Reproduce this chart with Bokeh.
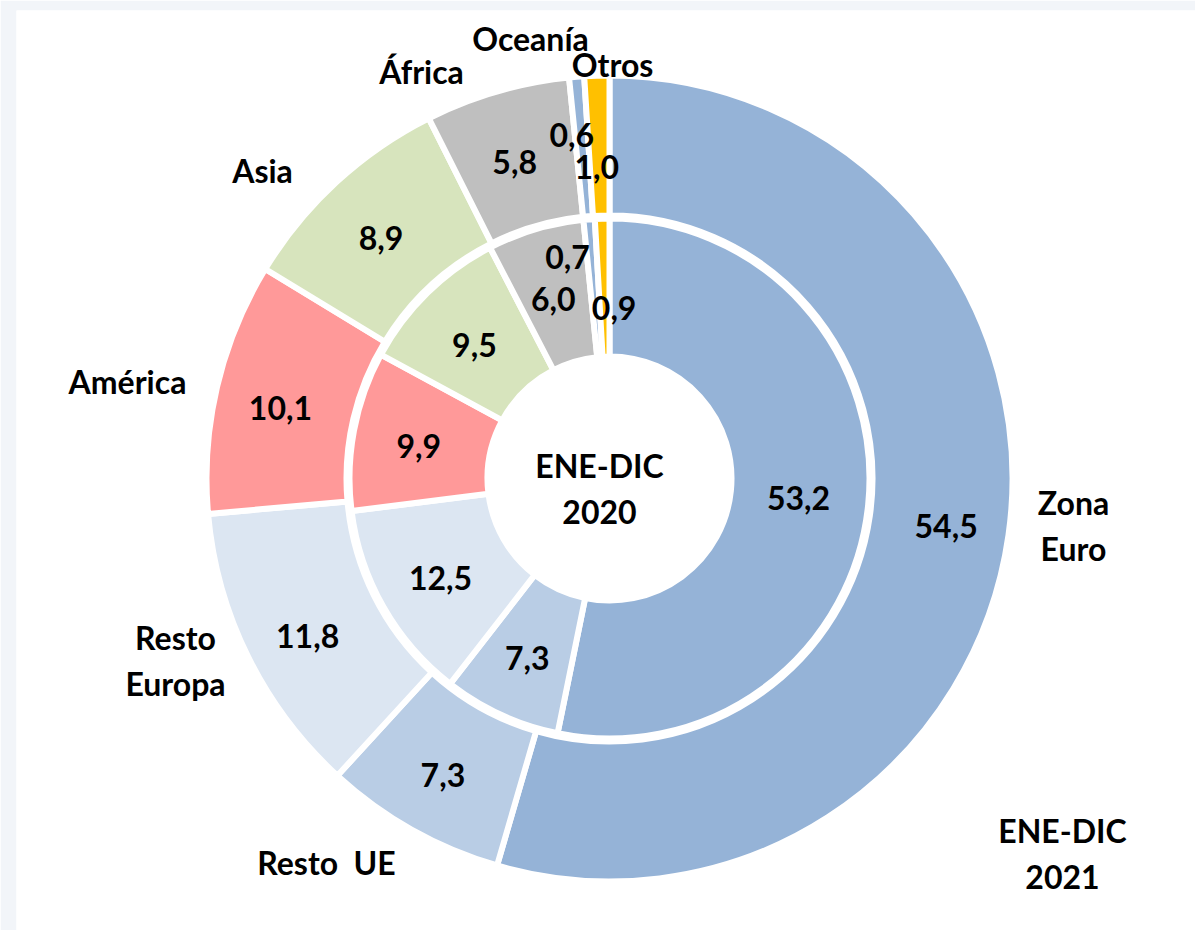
import math
from bokeh.plotting import figure
from bokeh.models import Range1d, ColumnDataSource
from bokeh.core.properties import value
from bokeh.embed import file_html
from bokeh.resources import INLINE

# ---------------- data ----------------
categories = ["Zona Euro", "Resto UE", "Resto Europa", "América", "Asia", "África", "Oceanía", "Otros"]
category_labels = ["Zona\nEuro", "Resto \u00a0UE", "Resto\nEuropa", "América", "Asia", "África", "Oceanía", "Otros"]
values_2021 = [54.5, 7.3, 11.8, 10.1, 8.9, 5.8, 0.6, 1.0]   # outer ring
values_2020 = [53.2, 7.3, 12.5, 9.9, 9.5, 6.0, 0.7, 0.9]    # inner ring
ring_titles = ["ENE-DIC\n2021", "ENE-DIC\n2020"]

# ---------------- styles / layout ----------------
colors = ["#95B3D7", "#B9CDE5", "#DCE6F2", "#FF9999", "#D7E4BD", "#BFBFBF", "#95B3D7", "#FFC000"]
FONT = value("Lato")
FSIZE = "32px"
LINE_H = 1.17

OUTER = (263, 403)   # inner/outer radius of 2021 ring (before white border)
INNER = (122, 260)   # inner/outer radius of 2020 ring
R_LBL_OUT = 340
R_LBL_IN = 190
# nudges for value labels (data units, y up)
off_out = [(0, 0), (0, 0), (3, -7), (2, -7), (2, -10), (0, -10), (-10, 5), (-2, -28)]
off_in = [(0, 0), (-3, -7), (-4, -5), (-4, -3), (-2, -2), (-2, -3), (-27, 32), (10, -19)]
# category label anchors (data units, centre of donut = 0,0)
cat_pos = [(464, -47), (-283, -384), (-434, -182), (-482, 97), (-347, 308), (-188, 407), (-79, 440), (3, 414)]
title_pos = [(453, -375), (-10, -10)]


def ring(vals, r_lbl, offs):
    tot = float(sum(vals))
    starts, ends, lx, ly, txt = [], [], [], [], []
    cum = 0.0
    for v, (dx, dy) in zip(vals, offs):
        a0 = math.pi / 2 - 2 * math.pi * cum / tot
        a1 = math.pi / 2 - 2 * math.pi * (cum + v) / tot
        am = (a0 + a1) / 2
        starts.append(a0)
        ends.append(a1)
        lx.append(r_lbl * math.cos(am) + dx)
        ly.append(r_lbl * math.sin(am) + dy)
        txt.append(f"{v:.1f}".replace(".", ","))
        cum += v
    return dict(start=starts, end=ends, lx=lx, ly=ly, txt=txt, color=colors, cat=categories)


p = figure(width=1195, height=930, output_backend="svg", toolbar_location=None,
           x_range=Range1d(-593, 586), y_range=Range1d(-452, 468),
           min_border_left=16, min_border_top=10, min_border_right=0, min_border_bottom=0)
p.axis.visible = False
p.grid.visible = False
p.outline_line_color = None
p.background_fill_color = "white"
p.border_fill_color = "#F2F5F9"

for vals, (ri, ro), r_lbl, offs in [(values_2021, OUTER, R_LBL_OUT, off_out),
                                     (values_2020, INNER, R_LBL_IN, off_in)]:
    src = ColumnDataSource(ring(vals, r_lbl, offs))
    p.annular_wedge(x=0, y=0, inner_radius=ri, outer_radius=ro,
                    start_angle="start", end_angle="end", direction="clock",
                    fill_color="color", line_color="white", line_width=6, source=src)
    p.text(x="lx", y="ly", text="txt", source=src, text_align="center", text_baseline="middle",
           text_font=FONT, text_font_style="bold", text_font_size=FSIZE, text_color="black")

p.text(x=[c[0] for c in cat_pos], y=[c[1] for c in cat_pos], text=category_labels,
       text_align="center", text_baseline="middle", text_font=FONT, text_font_style="bold",
       text_font_size=FSIZE, text_color="black", text_line_height=LINE_H)
p.text(x=[c[0] for c in title_pos], y=[c[1] for c in title_pos], text=ring_titles,
       text_align="center", text_baseline="middle", text_font=FONT, text_font_style="bold",
       text_font_size=FSIZE, text_color="black", text_line_height=LINE_H)

open("out.html", "w").write(file_html(p, INLINE))
